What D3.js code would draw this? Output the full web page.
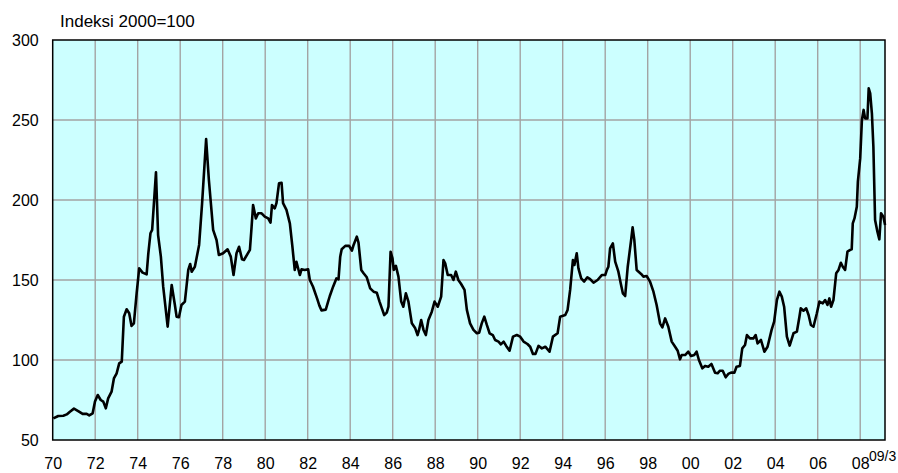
<!DOCTYPE html>
<html>
<head>
<meta charset="utf-8">
<script src="https://cdn.jsdelivr.net/npm/d3@7"></script>
<style>
  body { margin: 0; background: #ffffff; }
  text { font-family: "Liberation Sans", Arial, sans-serif; fill: #000; }
</style>
</head>
<body>
<div id="chart"></div>
<script>
// Index values (decimal year, index 2000=100)
var years70s = [1970.03, 1970.26, 1970.5, 1970.66, 1970.81, 1971.0, 1971.2, 1971.41, 1971.6, 1971.72, 1971.88, 1971.99,
    1972.12, 1972.26, 1972.38, 1972.5, 1972.61, 1972.77, 1972.88, 1973.01, 1973.13, 1973.25, 1973.35, 1973.48,
    1973.6, 1973.71, 1973.82, 1973.95, 1974.07, 1974.23, 1974.42, 1974.5, 1974.6, 1974.68, 1974.86, 1974.96,
    1975.09, 1975.2, 1975.41, 1975.6, 1975.75, 1975.83, 1975.94, 1976.06, 1976.22, 1976.38, 1976.47, 1976.54,
    1976.69, 1976.89, 1977.03, 1977.22, 1977.35, 1977.55, 1977.71, 1977.82, 1978.02, 1978.23, 1978.38, 1978.51,
    1978.65, 1978.77, 1978.91, 1979.0, 1979.28, 1979.36, 1979.43, 1979.56, 1979.67, 1979.83, 1979.98];
var values70s = [63.5, 65, 65.2, 66, 67.7, 69.6, 68.1, 66.3, 66.3, 65.4, 66.7, 74,
    78.1, 75, 74, 69.8, 76, 80.2, 88.5, 91.7, 97.9, 99, 127, 131.7,
    129.2, 121.3, 122.9, 141.7, 157.3, 154.6, 153.5, 166.7, 179.2, 181.3, 217.3, 178,
    164.6, 145.8, 120.8, 146.9, 134.4, 127.1, 126.7, 134.4, 136.5, 156.3, 160, 155.2,
    158.3, 171.9, 197.9, 238.1, 212.5, 181.3, 175, 165.6, 166.7, 169.2, 164.6, 153.1,
    166.7, 170.8, 162.9, 162.5, 168.8, 183.3, 196.9, 188.5, 191.7, 191.7, 189.6];

var years80s = [1980.14, 1980.25, 1980.32, 1980.45, 1980.53, 1980.65, 1980.77, 1980.84, 1981.0, 1981.16, 1981.28, 1981.39,
    1981.47, 1981.63, 1981.71, 1981.86, 1982.02, 1982.1, 1982.25, 1982.44, 1982.55, 1982.65, 1982.85, 1982.95,
    1983.04, 1983.2, 1983.35, 1983.45, 1983.53, 1983.6, 1983.77, 1983.95, 1984.08, 1984.16, 1984.31, 1984.39,
    1984.52, 1984.63, 1984.78, 1984.94, 1985.1, 1985.25, 1985.38, 1985.49, 1985.6, 1985.72, 1985.8, 1985.9,
    1985.99, 1986.05, 1986.15, 1986.27, 1986.4, 1986.5, 1986.62, 1986.74, 1986.9, 1987.06, 1987.17, 1987.24,
    1987.34, 1987.45, 1987.56, 1987.68, 1987.84, 1987.97, 1988.12, 1988.28, 1988.39, 1988.47, 1988.59, 1988.75,
    1988.86, 1988.97, 1989.09, 1989.22, 1989.38, 1989.49, 1989.64, 1989.8, 1989.96];
var values80s = [188.5, 185.8, 196.9, 194.8, 198, 210.4, 210.8, 198, 193.8, 185.4, 170.8, 156.3,
    161.4, 153.1, 156.7, 156.3, 156.7, 150, 145.8, 138.5, 134, 131, 131.5, 136,
    140, 146, 151, 150.4, 164.6, 169.2, 171.3, 171.3, 168.3, 171.9, 177.1, 173.3,
    156.3, 154.2, 151.7, 144.8, 142.7, 142.1, 136.5, 132.3, 128.1, 129.6, 133.3, 167.7,
    163.5, 156.3, 158.8, 152.1, 136.5, 133.3, 141.7, 136.5, 122.9, 119.8, 115.6, 118.8,
    125, 118.8, 115.6, 125, 130.2, 136.5, 133.3, 139.6, 162.5, 160.4, 153.1, 153.1,
    150, 155.2, 150, 147.5, 143.8, 131.3, 122.9, 118.8, 116.7];

var years90s = [1990.07, 1990.19, 1990.31, 1990.43, 1990.56, 1990.71, 1990.82, 1990.98, 1991.09, 1991.22, 1991.34, 1991.5,
    1991.66, 1991.84, 1992.0, 1992.16, 1992.34, 1992.47, 1992.6, 1992.72, 1992.86, 1993.02, 1993.18, 1993.38,
    1993.54, 1993.76, 1993.88, 1994.12, 1994.23, 1994.35, 1994.48, 1994.55, 1994.66, 1994.74, 1994.87, 1995.01,
    1995.16, 1995.29, 1995.45, 1995.64, 1995.84, 1996.0, 1996.08, 1996.15, 1996.23, 1996.36, 1996.47, 1996.62,
    1996.73, 1996.83, 1996.94, 1997.06, 1997.22, 1997.29, 1997.37, 1997.48, 1997.69, 1997.8, 1997.95, 1998.11,
    1998.27, 1998.42, 1998.58, 1998.69, 1998.82, 1998.97, 1999.13, 1999.29, 1999.41, 1999.52, 1999.6, 1999.76,
    1999.91];
var values90s = [117.1, 122.9, 127.1, 121.9, 116.7, 115.6, 112.5, 111.5, 109.8, 111.5, 108.8, 105.8,
    114.6, 115.6, 114.6, 111.5, 110, 108.3, 103.8, 103.8, 108.8, 107.3, 108.3, 105.2,
    114.6, 116.7, 127.1, 128.1, 131.3, 143.8, 162.5, 159.4, 166.7, 157.3, 151, 149,
    151.7, 150.6, 148.3, 150, 153.1, 153.1, 156.3, 158.3, 169.8, 172.9, 161.5, 155.2,
    147.9, 141.7, 140, 158.3, 175, 182.9, 175, 156.3, 153.8, 152.1, 152.5, 149,
    142.7, 134.4, 122.9, 120.4, 126, 120.8, 111.5, 108.3, 105.8, 100.4, 103.1, 103.1,
    105.2];

var years00s = [2000.04, 2000.19, 2000.3, 2000.41, 2000.57, 2000.7, 2000.85, 2001.0, 2001.17, 2001.29, 2001.4, 2001.53,
    2001.67, 2001.79, 2001.92, 2002.08, 2002.18, 2002.34, 2002.45, 2002.58, 2002.67, 2002.81, 2002.97, 2003.08,
    2003.17, 2003.33, 2003.49, 2003.64, 2003.83, 2003.95, 2004.08, 2004.2, 2004.31, 2004.42, 2004.55, 2004.68,
    2004.86, 2005.02, 2005.14, 2005.2, 2005.33, 2005.46, 2005.57, 2005.68, 2005.8, 2005.96, 2006.08, 2006.24,
    2006.35, 2006.46, 2006.55, 2006.63, 2006.74, 2006.87, 2006.98, 2007.09, 2007.18, 2007.29, 2007.4, 2007.53,
    2007.6, 2007.65, 2007.73, 2007.84, 2007.89, 2008.0, 2008.08, 2008.16, 2008.23, 2008.34, 2008.4, 2008.47,
    2008.55, 2008.62, 2008.7, 2008.81, 2008.9, 2008.98, 2009.09, 2009.17];
var values00s = [102.5, 103.1, 105.2, 100, 94.8, 96.3, 95.8, 97.5, 92.1, 91.7, 93.3, 93.3,
    89.2, 91.3, 92.1, 92.1, 95.8, 96.3, 107.3, 109.4, 115.6, 113.5, 113.5, 115.6,
    110.4, 112.5, 105.2, 108.3, 118.8, 124, 137.5, 142.7, 139.6, 133.3, 114.6, 109,
    116.7, 117.7, 127, 132.3, 130.8, 132.3, 128.1, 121.9, 120.8, 129.2, 136.5, 135.4,
    137.5, 134.4, 138.5, 133.3, 137.5, 154.2, 156.3, 160.8, 158.3, 156.3, 167.7, 168.8,
    169.2, 185.4, 188.5, 195.8, 211.5, 226, 250, 256.3, 251, 251, 269.8, 266.7,
    254.2, 233.3, 187.5, 180.2, 175.4, 191.7, 189.6, 184.4];

// axis ticks
var xTickYears = d3.range(1970, 2009, 2);
var yTickValues = [50, 100, 150, 200, 250, 300];
var yGridValues = [100, 150, 200, 250];

var svgWidth = 898;
var svgHeight = 473;

var plot = { left: 52.7, right: 885, top: 40, bottom: 440 };

var svg = d3.select("#chart").append("svg")
    .attr("width", svgWidth)
    .attr("height", svgHeight);

var allYears = years70s.concat(years80s, years90s, years00s);
var allValues = values70s.concat(values80s, values90s, values00s);
var series = allYears.map(function(y, i) { return { year: y, value: allValues[i] }; });

var xScale = d3.scaleLinear()
    .domain([1970, 2009 + 2 / 12])
    .range([plot.left, plot.right]);

var yScale = d3.scaleLinear()
    .domain([50, 300])
    .range([plot.bottom, plot.top]);

// plot background
svg.append("rect")
    .attr("x", plot.left)
    .attr("y", plot.top)
    .attr("width", plot.right - plot.left)
    .attr("height", plot.bottom - plot.top)
    .attr("fill", "#ccffff");

// grid lines
svg.append("g").selectAll("line")
    .data(xTickYears.slice(1))
    .enter()
    .append("line")
    .attr("x1", d => xScale(d))
    .attr("x2", d => xScale(d))
    .attr("y1", plot.top)
    .attr("y2", plot.bottom)
    .attr("stroke", "#a3a3a3")
    .attr("stroke-width", 1.4);

svg.append("g").selectAll("line")
    .data(yGridValues)
    .enter()
    .append("line")
    .attr("x1", plot.left)
    .attr("x2", plot.right)
    .attr("y1", d => yScale(d))
    .attr("y2", d => yScale(d))
    .attr("stroke", "#a3a3a3")
    .attr("stroke-width", 1.4);

// the index line
var line = d3.line()
    .x(d => xScale(d.year))
    .y(d => yScale(d.value));

svg.append("path")
    .datum(series)
    .attr("fill", "none")
    .attr("stroke", "#000")
    .attr("stroke-width", 2.6)
    .attr("stroke-linejoin", "round")
    .attr("d", line);

// frame
svg.append("rect")
    .attr("x", plot.left)
    .attr("y", plot.top)
    .attr("width", plot.right - plot.left)
    .attr("height", plot.bottom - plot.top)
    .attr("fill", "none")
    .attr("stroke", "#000")
    .attr("stroke-width", 1.5);

// axes
var bottomAxis = d3.axisBottom(xScale)
    .tickValues(xTickYears)
    .tickFormat(d => String(d % 100).padStart(2, "0"))
    .tickSize(0)
    .tickPadding(18);

var xAxis = svg.append("g")
    .attr("transform", `translate(0, ${plot.bottom})`)
    .call(bottomAxis);
xAxis.select(".domain").remove();
xAxis.selectAll("text")
    .style("font-family", "'Liberation Sans', Arial, sans-serif")
    .style("font-size", "16px");

var leftAxis = d3.axisLeft(yScale)
    .tickValues(yTickValues)
    .tickSize(0)
    .tickPadding(14);

var yAxis = svg.append("g")
    .attr("transform", `translate(${plot.left}, 0)`)
    .call(leftAxis);
yAxis.select(".domain").remove();
yAxis.selectAll("text")
    .style("font-family", "'Liberation Sans', Arial, sans-serif")
    .style("font-size", "16px");

// end label
svg.append("text")
    .attr("x", 869)
    .attr("y", 461)
    .style("font-size", "14px")
    .text("09/3");

// unit label
svg.append("text")
    .attr("x", 60)
    .attr("y", 27)
    .style("font-size", "17px")
    .text("Indeksi 2000=100");
</script>
</body>
</html>
